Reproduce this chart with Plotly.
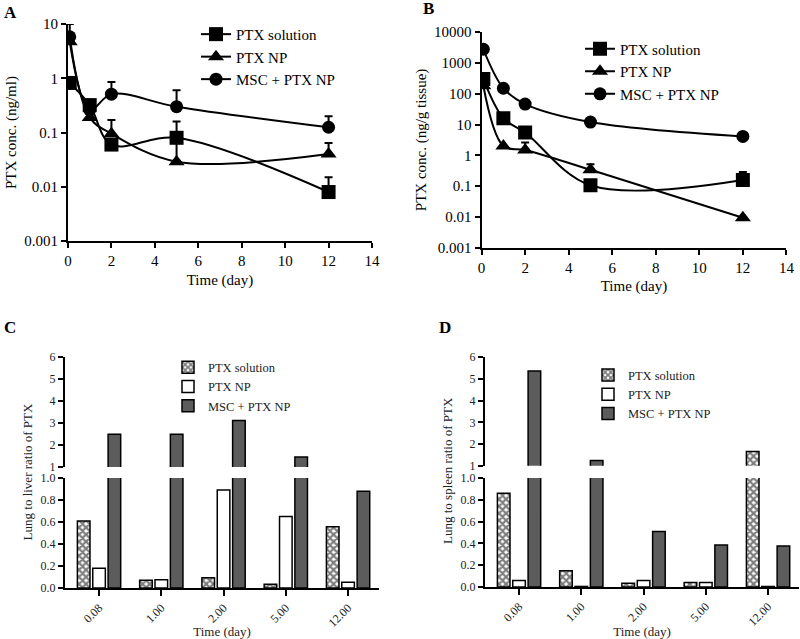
import plotly.graph_objects as go

# ---------------- data ----------------
time_days = [0.08, 1, 2, 5, 12]
series_names = ["PTX solution", "PTX NP", "MSC + PTX NP"]
symbols = ["square", "triangle-up", "circle"]

# Panel A: plasma PTX conc. (ng/ml)
a_sol = [0.82, 0.32, 0.06, 0.08, 0.008]
a_sol_up = [0.82, 0.40, 0.06, 0.16, 0.015]
a_np = [4.7, 0.19, 0.095, 0.029, 0.04]
a_np_up = [4.7, 0.19, 0.17, 0.065, 0.064]
a_msc = [5.8, 0.26, 0.51, 0.30, 0.125]
a_msc_up = [10.0, 0.26, 0.85, 0.60, 0.20]

# Panel B: lung PTX conc. (ng/g tissue)
b_sol = [300, 16, 5.5, 0.107, 0.16]
b_sol_up = [300, 16, 5.5, 0.14, 0.29]
b_np = [180, 2.0, 1.5, 0.34, 0.0095]
b_np_up = [180, 2.0, 2.6, 0.52, 0.0095]
b_msc = [2750, 150, 46, 12, 4.1]
b_msc_up = [2750, 150, 46, 12, 4.1]

# Panel C / D: ratios
cat_labels = ["0.08", "1.00", "2.00", "5.00", "12.00"]
c_sol = [0.61, 0.07, 0.094, 0.034, 0.557]
c_np = [0.18, 0.075, 0.89, 0.65, 0.052]
c_msc = [2.5, 2.5, 3.12, 1.46, 0.88]
d_sol = [0.86, 0.15, 0.035, 0.04, 1.66]
d_np = [0.06, 0.005, 0.06, 0.04, 0.005]
d_msc = [5.37, 1.24, 0.51, 0.385, 0.375]

log_ticks_a = [0.001, 0.01, 0.1, 1, 10]
log_ticks_b = [0.001, 0.01, 0.1, 1, 10, 100, 1000, 10000]
lin_ticks_x = [0, 2, 4, 6, 8, 10, 12, 14]

FONT = "Liberation Serif"
fig = go.Figure()

def fmt(v):
    return ("%g" % v)

# ---------- line panels ----------
def add_lines(vals, ups, xa, ya, legend):
    for name, sym, v, u in zip(series_names, symbols, vals, ups):
        err = [max(uu - vv, 0) for uu, vv in zip(u, v)]
        fig.add_trace(go.Scatter(
            x=time_days, y=v, name=name, mode="lines+markers",
            line=dict(color="black", width=2, shape="spline", smoothing=1.0),
            marker=dict(symbol=sym, size=14 if sym != "circle" else 13, color="black"),
            error_y=dict(type="data", symmetric=False, array=err,
                         arrayminus=[0] * len(err), color="black", thickness=2, width=4),
            xaxis=xa, yaxis=ya, legend=legend))

add_lines([a_sol, a_np, a_msc], [a_sol_up, a_np_up, a_msc_up], "x", "y", "legend")
add_lines([b_sol, b_np, b_msc], [b_sol_up, b_np_up, b_msc_up], "x2", "y2", "legend2")

# ---------- bar panels ----------
bar_styles = [
    dict(color="white", line=dict(color="black", width=1.5),
         pattern=dict(shape="x", fgcolor="black", bgcolor="white", size=5, solidity=0.7)),
    dict(color="white", line=dict(color="black", width=1.5)),
    dict(color="#5c5c5c", line=dict(color="black", width=1.5)),
]

def add_bars(vals, xa, ya_low, ya_up, legend):
    for name, v, st in zip(series_names, vals, bar_styles):
        for ya, show in ((ya_low, True), (ya_up, False)):
            fig.add_trace(go.Bar(
                x=cat_labels, y=v, name=name, marker=st, showlegend=show,
                xaxis=xa, yaxis=ya, legend=legend, offsetgroup=name))

add_bars([c_sol, c_np, c_msc], "x3", "y3", "y4", "legend3")
add_bars([d_sol, d_np, d_msc], "x4", "y5", "y6", "legend4")

# ---------- layout ----------
axis_common = dict(showline=True, linecolor="black", linewidth=2, ticks="outside",
                   tickcolor="black", tickwidth=2, ticklen=5, showgrid=False,
                   zeroline=False, mirror=False, automargin=False)
tf_line = dict(family=FONT, size=15, color="black")
tf_bar = dict(family=FONT, size=12, color="#222")
title_bar = dict(family=FONT, size=13, color="#222")

fig.update_layout(
    width=800, height=639, margin=dict(l=0, r=0, t=0, b=0, autoexpand=False),
    paper_bgcolor="white", plot_bgcolor="white", showlegend=True,
    barmode="group", bargap=0.26, bargroupgap=0.18,
    font=dict(family=FONT, color="black"),
    xaxis=dict(axis_common, domain=[0.085, 0.465], range=[0, 14], tickvals=lin_ticks_x,
               tickfont=tf_line, anchor="y",
               title=dict(text="Time (day)", font=tf_line, standoff=6)),
    yaxis=dict(axis_common, domain=[0.6228, 0.9624], type="log", range=[-3, 1],
               tickvals=log_ticks_a, ticktext=[fmt(t) for t in log_ticks_a],
               tickfont=tf_line, anchor="x",
               title=dict(text="PTX conc. (ng/ml)", font=tf_line, standoff=4)),
    xaxis2=dict(axis_common, domain=[0.602, 0.983], range=[0, 14], tickvals=lin_ticks_x,
                tickfont=tf_line, anchor="y2",
                title=dict(text="Time (day)", font=tf_line, standoff=6)),
    yaxis2=dict(axis_common, domain=[0.612, 0.950], type="log", range=[-3, 4],
                tickvals=log_ticks_b, ticktext=[fmt(t) for t in log_ticks_b],
                tickfont=tf_line, anchor="x2",
                title=dict(text="PTX conc. (ng/g tissue)", font=tf_line, standoff=4)),
    xaxis3=dict(axis_common, domain=[0.081, 0.474], type="category", range=[-0.55, 4.5],
                tickangle=-45, tickfont=tf_bar, anchor="y3", ticklen=6,
                title=dict(text="Time (day)", font=title_bar, standoff=0)),
    yaxis3=dict(axis_common, domain=[0.0798, 0.252], range=[0, 1],
                tickvals=[0, 0.2, 0.4, 0.6, 0.8, 1.0],
                ticktext=["0.0", "0.2", "0.4", "0.6", "0.8", "1.0"],
                tickfont=tf_bar, anchor="x3"),
    yaxis4=dict(axis_common, domain=[0.269, 0.441], range=[1, 6],
                tickvals=[1, 2, 3, 4, 5, 6], tickfont=tf_bar, anchor="x3"),
    xaxis4=dict(axis_common, domain=[0.606, 0.999], type="category", range=[-0.55, 4.5],
                tickangle=-45, tickfont=tf_bar, anchor="y5", ticklen=6,
                title=dict(text="Time (day)", font=title_bar, standoff=0)),
    yaxis5=dict(axis_common, domain=[0.0814, 0.252], range=[0, 1],
                tickvals=[0, 0.2, 0.4, 0.6, 0.8, 1.0],
                ticktext=["0.0", "0.2", "0.4", "0.6", "0.8", "1.0"],
                tickfont=tf_bar, anchor="x4"),
    yaxis6=dict(axis_common, domain=[0.271, 0.441], range=[1, 6],
                tickvals=[1, 2, 3, 4, 5, 6], tickfont=tf_bar, anchor="x4"),
    legend=dict(x=0.245, y=0.972, xanchor="left", yanchor="top", bgcolor="rgba(0,0,0,0)",
                font=dict(family=FONT, size=15, color="black"), tracegroupgap=0),
    legend2=dict(x=0.725, y=0.949, xanchor="left", yanchor="top", bgcolor="rgba(0,0,0,0)",
                 font=dict(family=FONT, size=15, color="black"), tracegroupgap=0),
    legend3=dict(x=0.21, y=0.448, xanchor="left", yanchor="top", bgcolor="rgba(0,0,0,0)",
                 font=dict(family=FONT, size=12.5, color="#222"), tracegroupgap=0),
    legend4=dict(x=0.735, y=0.436, xanchor="left", yanchor="top", bgcolor="rgba(0,0,0,0)",
                 font=dict(family=FONT, size=12.5, color="#222"), tracegroupgap=0),
)

# y titles for broken-axis panels and panel letters
fig.add_annotation(text="Lung to liver ratio of PTX", x=0.034, y=0.261, xref="paper",
                   yref="paper", textangle=-90, showarrow=False,
                   xanchor="center", yanchor="middle", font=title_bar)
fig.add_annotation(text="Lung to spleen ratio of PTX", x=0.56, y=0.263, xref="paper",
                   yref="paper", textangle=-90, showarrow=False,
                   xanchor="center", yanchor="middle", font=title_bar)
for letter, lx, ly in (("A", 0.0125, 0.980), ("B", 0.535, 0.986),
                       ("C", 0.0125, 0.488), ("D", 0.556, 0.488)):
    fig.add_annotation(text="<b>%s</b>" % letter, x=lx, y=ly, xref="paper", yref="paper",
                       showarrow=False, xanchor="center", yanchor="middle",
                       font=dict(family=FONT, size=17, color="black"))

fig.write_html("out.html", config={"displayModeBar": False},
               post_script="document.body.style.margin='0';document.body.style.overflow='hidden';")
